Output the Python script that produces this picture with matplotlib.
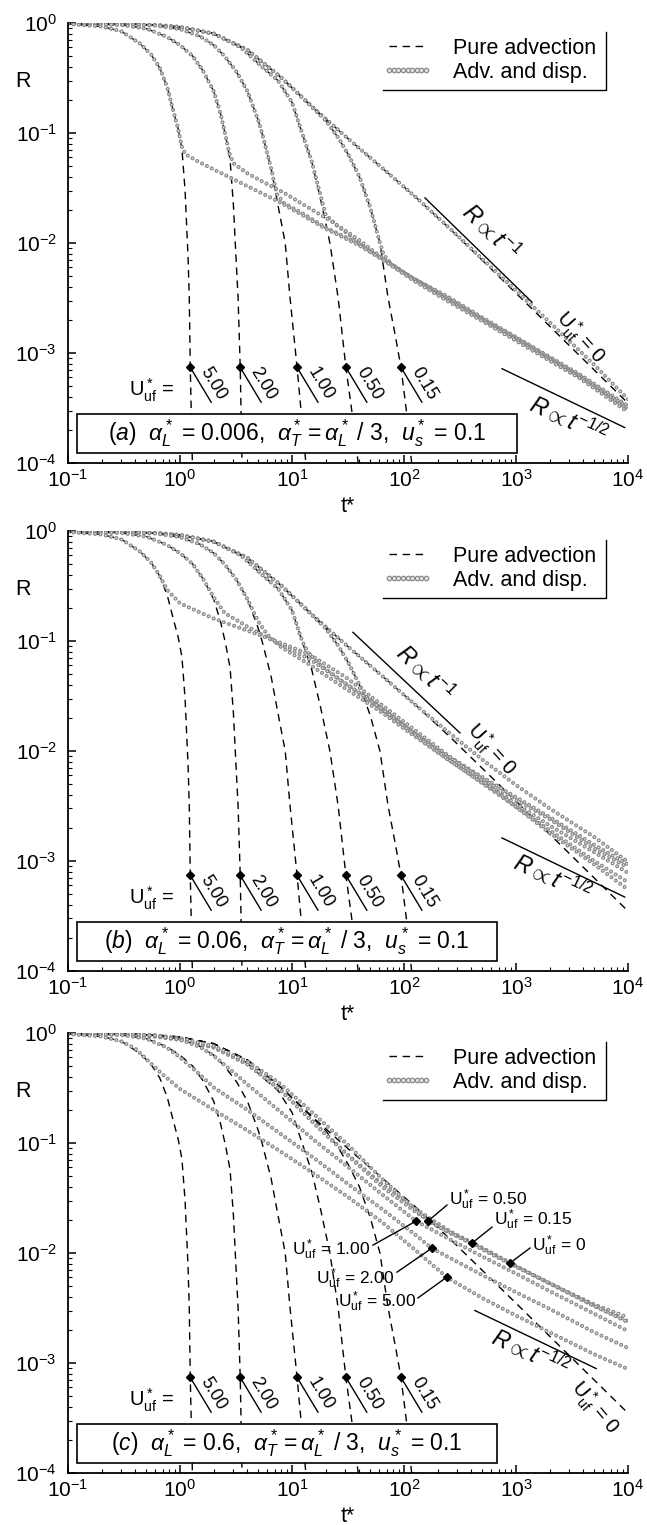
import numpy as np
import matplotlib.pyplot as plt
from matplotlib.lines import Line2D
from matplotlib.patches import Rectangle

plt.rcParams['font.family'] = ['Liberation Sans', 'DejaVu Sans']
plt.rcParams['mathtext.fontset'] = 'custom'
plt.rcParams['mathtext.rm'] = 'Liberation Sans'
plt.rcParams['mathtext.it'] = 'Liberation Sans:italic'
plt.rcParams['mathtext.bf'] = 'Liberation Sans:bold'
plt.rcParams['lines.scale_dashes'] = False
plt.rcParams['axes.unicode_minus'] = False

# ---- pure advection curves (same in every panel) ----
t_adv_0 = [0.1, 0.3, 0.6, 1, 2, 4, 8, 16, 32, 64, 128, 256, 512, 1000, 2000, 5000, 10000]
R_adv_0 = [0.995, 0.985, 0.96, 0.92, 0.8, 0.57, 0.32, 0.165, 0.088, 0.048, 0.026, 0.0135, 0.0068, 0.0035, 0.00175, 0.0007, 0.00035]
t_adv_015 = [0.1, 0.3, 0.6, 1, 2, 4, 8, 14, 20, 26, 32, 40, 50, 61, 72, 84, 94, 105, 117, 125]
R_adv_015 = [0.995, 0.985, 0.96, 0.92, 0.8, 0.57, 0.32, 0.185, 0.13, 0.09, 0.063, 0.04, 0.021, 0.01, 0.0032, 0.0014, 0.00074, 0.0003, 0.0001, 0.00004]
t_adv_05 = [0.1, 0.3, 0.6, 1, 2, 3.5, 5.4, 7.5, 10, 12.3, 15, 18, 21.8, 25.8, 30.3, 35, 39, 42]
R_adv_05 = [0.995, 0.985, 0.96, 0.92, 0.8, 0.6, 0.4, 0.3, 0.19, 0.1, 0.055, 0.025, 0.01, 0.0032, 0.00074, 0.00025, 0.0001, 0.00004]
t_adv_1 = [0.1, 0.3, 0.6, 1, 1.5, 2, 2.5, 3.2, 4, 5, 5.4, 6.5, 7.5, 8.7, 9.6, 11.1, 12.2, 13.3, 14]
R_adv_1 = [0.995, 0.98, 0.95, 0.88, 0.76, 0.63, 0.5, 0.36, 0.24, 0.13, 0.1, 0.048, 0.022, 0.01, 0.0032, 0.00074, 0.00026, 0.0001, 0.00005]
t_adv_2 = [0.1, 0.3, 0.5, 0.76, 1, 1.3, 1.6, 2.0, 2.3, 2.55, 2.8, 3.0, 3.15, 3.3, 3.45, 3.58, 3.7]
R_adv_2 = [0.99, 0.96, 0.89, 0.75, 0.63, 0.5, 0.37, 0.24, 0.15, 0.095, 0.057, 0.022, 0.008, 0.0032, 0.00074, 0.0001, 0.00004]
t_adv_5 = [0.1, 0.2, 0.3, 0.44, 0.55, 0.66, 0.77, 0.87, 0.96, 1.04, 1.11, 1.18, 1.21, 1.235, 1.29, 1.33]
R_adv_5 = [0.98, 0.93, 0.84, 0.65, 0.52, 0.39, 0.26, 0.16, 0.11, 0.072, 0.03, 0.0075, 0.0032, 0.00074, 0.0001, 0.00004]

# ---- (a) alpha_L = 0.006 ----
ta_0 = t_adv_0
Ra_0 = [0.995, 0.985, 0.96, 0.92, 0.8, 0.57, 0.32, 0.165, 0.088, 0.048, 0.026, 0.0136, 0.007, 0.0037, 0.0019, 0.00078, 0.00038]
ta_015 = [0.1, 0.3, 0.6, 1, 2, 4, 8, 14, 20, 26, 32, 40, 50, 61, 66, 80, 120, 240, 500, 940, 2000, 3700, 10000]
Ra_015 = [0.995, 0.985, 0.96, 0.92, 0.8, 0.57, 0.32, 0.185, 0.13, 0.09, 0.063, 0.04, 0.021, 0.01, 0.0078, 0.0062, 0.0048, 0.0033, 0.0021, 0.00145, 0.00092, 0.00064, 0.00033]
ta_05 = [0.1, 0.3, 0.6, 1, 2, 3.5, 5.4, 7.5, 10, 12.3, 15, 18, 20, 25, 35, 65, 120, 240, 500, 940, 2000, 3700, 10000]
Ra_05 = [0.995, 0.985, 0.96, 0.92, 0.8, 0.6, 0.4, 0.3, 0.19, 0.1, 0.055, 0.027, 0.018, 0.0145, 0.0112, 0.0072, 0.0048, 0.0032, 0.00205, 0.00142, 0.0009, 0.00062, 0.00032]
ta_1 = [0.1, 0.3, 0.6, 1, 1.5, 2, 2.5, 3.2, 4, 5, 5.4, 6.5, 7.3, 8.5, 12, 20, 35, 65, 120, 240, 500, 940, 2000, 3700, 10000]
Ra_1 = [0.995, 0.98, 0.95, 0.88, 0.76, 0.63, 0.5, 0.36, 0.24, 0.13, 0.1, 0.048, 0.028, 0.023, 0.019, 0.0138, 0.0105, 0.0071, 0.0047, 0.0031, 0.002, 0.00139, 0.00088, 0.00061, 0.00031]
ta_2 = [0.1, 0.3, 0.5, 0.76, 1, 1.3, 1.6, 2.0, 2.3, 2.55, 2.75, 3.0, 4, 5.5, 8.3, 14, 22, 40, 65, 120, 240, 500, 940, 2000, 3700, 10000]
Ra_2 = [0.99, 0.96, 0.89, 0.75, 0.63, 0.5, 0.37, 0.24, 0.15, 0.095, 0.066, 0.053, 0.043, 0.036, 0.029, 0.021, 0.016, 0.0106, 0.0072, 0.0047, 0.0031, 0.002, 0.00137, 0.00087, 0.0006, 0.0003]
ta_5 = [0.1, 0.2, 0.3, 0.44, 0.55, 0.66, 0.77, 0.87, 0.96, 1.04, 1.12, 1.5, 3, 7.8, 20, 40, 65, 120, 240, 500, 940, 2000, 3700, 10000]
Ra_5 = [0.98, 0.93, 0.84, 0.65, 0.52, 0.39, 0.26, 0.16, 0.11, 0.075, 0.064, 0.054, 0.038, 0.0235, 0.0135, 0.0095, 0.007, 0.0046, 0.003, 0.00195, 0.00134, 0.00085, 0.00059, 0.00029]

# ---- (b) alpha_L = 0.06 ----
tb_0 = [0.1, 0.3, 0.6, 1, 2, 4, 8, 16, 32, 64, 128, 256, 512, 1000, 2000, 5000, 10000]
Rb_0 = [0.995, 0.985, 0.96, 0.92, 0.8, 0.57, 0.32, 0.165, 0.088, 0.048, 0.026, 0.0145, 0.0082, 0.0049, 0.003, 0.00165, 0.00098]
tb_015 = [0.1, 0.3, 0.6, 1, 2, 4, 8, 14, 20, 26, 32, 40, 45, 61, 120, 240, 512, 1000, 2000, 5000, 10000]
Rb_015 = [0.995, 0.985, 0.96, 0.92, 0.8, 0.57, 0.32, 0.185, 0.13, 0.09, 0.063, 0.04, 0.032, 0.024, 0.0148, 0.0092, 0.0057, 0.0038, 0.0025, 0.0014, 0.00093]
tb_05 = [0.1, 0.3, 0.6, 1, 2, 3.5, 5.4, 7.5, 10, 12.3, 14, 18, 30, 61, 120, 240, 512, 1000, 2000, 5000, 10000]
Rb_05 = [0.995, 0.985, 0.96, 0.92, 0.8, 0.6, 0.4, 0.3, 0.19, 0.1, 0.078, 0.06, 0.041, 0.025, 0.0148, 0.009, 0.0055, 0.0036, 0.0024, 0.0013, 0.00087]
tb_1 = [0.1, 0.3, 0.6, 1, 1.5, 2, 2.5, 3.2, 4, 5, 6, 8, 14, 30, 61, 120, 240, 512, 1000, 2000, 5000, 10000]
Rb_1 = [0.995, 0.98, 0.95, 0.88, 0.76, 0.63, 0.5, 0.36, 0.24, 0.15, 0.115, 0.088, 0.062, 0.037, 0.023, 0.014, 0.0085, 0.0051, 0.0033, 0.0021, 0.0012, 0.00078]
tb_2 = [0.1, 0.3, 0.5, 0.76, 1, 1.3, 1.6, 2.0, 2.5, 4, 8, 14.5, 30, 61, 120, 240, 512, 1000, 2000, 5000, 10000]
Rb_2 = [0.99, 0.96, 0.89, 0.75, 0.63, 0.5, 0.37, 0.25, 0.18, 0.135, 0.092, 0.068, 0.041, 0.025, 0.0145, 0.0086, 0.005, 0.0031, 0.0019, 0.001, 0.00064]
tb_5 = [0.1, 0.2, 0.3, 0.44, 0.55, 0.66, 0.77, 1, 2, 4.2, 8, 14.5, 30, 61, 120, 240, 512, 1000, 2000, 5000, 10000]
Rb_5 = [0.98, 0.93, 0.84, 0.65, 0.52, 0.39, 0.29, 0.22, 0.16, 0.122, 0.096, 0.075, 0.047, 0.027, 0.016, 0.0093, 0.0053, 0.0031, 0.0018, 0.00093, 0.00055]

# ---- (c) alpha_L = 0.6 ----
tc_0 = [0.1, 0.3, 0.6, 1, 2, 4, 8, 16, 32, 64, 128, 256, 512, 890, 2000, 5000, 10000]
Rc_0 = [0.99, 0.97, 0.93, 0.87, 0.74, 0.52, 0.3, 0.15, 0.077, 0.042, 0.025, 0.0158, 0.011, 0.0081, 0.0053, 0.0034, 0.0026]
tc_015 = [0.1, 0.3, 0.6, 1, 2, 4, 8, 16, 32, 64, 128, 256, 410, 1000, 2000, 5000, 10000]
Rc_015 = [0.99, 0.97, 0.93, 0.87, 0.74, 0.52, 0.3, 0.148, 0.076, 0.04, 0.0235, 0.0152, 0.0123, 0.0076, 0.0053, 0.0033, 0.0024]
tc_05 = [0.1, 0.3, 0.6, 1, 2, 4, 6, 8, 16, 32, 64, 163, 300, 600, 1000, 2000, 5000, 10000]
Rc_05 = [0.995, 0.985, 0.955, 0.9, 0.76, 0.55, 0.42, 0.34, 0.18, 0.095, 0.047, 0.0195, 0.0142, 0.0098, 0.0075, 0.0053, 0.0033, 0.00235]
tc_1 = [0.1, 0.3, 0.6, 1, 1.5, 2, 3, 4, 8, 16, 32, 64, 128, 250, 500, 1000, 2000, 5000, 10000]
Rc_1 = [0.995, 0.98, 0.95, 0.87, 0.75, 0.62, 0.44, 0.34, 0.19, 0.105, 0.06, 0.034, 0.0195, 0.0135, 0.0093, 0.0065, 0.0045, 0.0028, 0.00195]
tc_2 = [0.1, 0.3, 0.5, 0.76, 1, 1.5, 2, 4, 8, 16, 32, 64, 128, 178, 500, 1000, 2000, 5000, 10000]
Rc_2 = [0.99, 0.96, 0.89, 0.74, 0.6, 0.42, 0.32, 0.2, 0.12, 0.072, 0.042, 0.025, 0.0145, 0.011, 0.0063, 0.0044, 0.0031, 0.0019, 0.00137]
tc_5 = [0.1, 0.2, 0.3, 0.4, 0.5, 0.7, 1, 2, 4, 8, 16, 32, 64, 128, 242, 500, 1000, 2000, 5000, 10000]
Rc_5 = [0.98, 0.93, 0.84, 0.72, 0.58, 0.42, 0.31, 0.2, 0.13, 0.083, 0.052, 0.032, 0.019, 0.0105, 0.006, 0.0039, 0.0027, 0.0019, 0.0012, 0.00088]

# label markers on the pure advection curves
U_text = ['5.00', '2.00', '1.00', '0.50', '0.15']
t_mark = [1.235, 3.45, 11.1, 30.3, 94.0]
R_mark = 7.4e-4

adv = [(t_adv_0, R_adv_0), (t_adv_015, R_adv_015), (t_adv_05, R_adv_05),
       (t_adv_1, R_adv_1), (t_adv_2, R_adv_2), (t_adv_5, R_adv_5)]
gray_a = [(ta_0, Ra_0), (ta_015, Ra_015), (ta_05, Ra_05), (ta_1, Ra_1), (ta_2, Ra_2), (ta_5, Ra_5)]
gray_b = [(tb_0, Rb_0), (tb_015, Rb_015), (tb_05, Rb_05), (tb_1, Rb_1), (tb_2, Rb_2), (tb_5, Rb_5)]
gray_c = [(tc_0, Rc_0), (tc_015, Rc_015), (tc_05, Rc_05), (tc_1, Rc_1), (tc_2, Rc_2), (tc_5, Rc_5)]

DASH = (0, (5.4, 4.0))
DOT = (0, (0.01, 3.9))
GRAY = '#8a8a8a'
INNER = '#e4e4e4'


def draw_base(ax, grays):
    for t, R in adv:
        ax.plot(t, R, color='k', lw=1.0, linestyle=DASH)
    for t, R in grays:
        ax.plot(t, R, color=GRAY, lw=3.0, linestyle=DOT, dash_capstyle='round')
        ax.plot(t, R, color=INNER, lw=1.2, linestyle=DOT, dash_capstyle='round')

    ax.set_xscale('log')
    ax.set_yscale('log')
    ax.set_xlim(0.1, 1e4)
    ax.set_ylim(1e-4, 1)
    ax.spines['top'].set_visible(False)
    ax.spines['right'].set_visible(False)
    ax.spines['left'].set_linewidth(1.3)
    ax.spines['bottom'].set_linewidth(1.3)
    ax.tick_params(which='major', direction='in', length=6, width=1.1, labelsize=15)
    ax.tick_params(axis='y', which='major', pad=8)
    ax.tick_params(axis='x', which='major', pad=4)
    ax.tick_params(which='minor', direction='in', length=3, width=0.8)
    ax.set_xlabel('t*', fontsize=15.5)
    ax.xaxis.set_label_coords(0.5, -0.075)
    ax.text(-0.08, 0.866, 'R', transform=ax.transAxes, fontsize=15.5, ha='center', va='center')

    # markers and labels on the pure advection curves
    ax.plot(t_mark, [R_mark] * 5, 'D', color='k', ms=4)
    for t, s in zip(t_mark, U_text):
        ax.annotate('', xy=(t, R_mark), xytext=(21, -35), textcoords='offset pixels',
                    arrowprops=dict(arrowstyle='-', lw=1.0, color='k', shrinkA=0, shrinkB=0))
        ax.annotate(s, xy=(t, R_mark), xytext=(23, -16), textcoords='offset pixels',
                    rotation=-59, ha='center', va='center', fontsize=13)
    ax.text(0.56, 4.6e-4, r'U$^*_{\rm uf}$ =', fontsize=14.5, ha='center', va='center')

    # legend
    h_dash = Line2D([], [], color='k', lw=1.0, linestyle=DASH)
    h_dot = Line2D([], [], linestyle='none', marker='o', ms=3.2, mec=GRAY, mfc=INNER, mew=0.9)
    ax.legend([h_dash, h_dot], ['Pure advection', 'Adv. and disp.'],
              loc='upper left', bbox_to_anchor=(0.5625, 0.966), frameon=False,
              fontsize=15.5, handlelength=2.28, handletextpad=0.98, numpoints=9,
              borderpad=0, borderaxespad=0, labelspacing=0.12)
    ax.plot([0.5625, 0.9607, 0.9607], [0.8477, 0.8477, 0.9795], color='k', lw=1.0,
            transform=ax.transAxes, clip_on=False)


def draw_box(ax, text, width):
    ax.add_patch(Rectangle((0.016, 0.0227), width, 0.0886, transform=ax.transAxes,
                           facecolor='white', edgecolor='k', lw=1.2, zorder=5))
    ax.text(0.016 + width / 2, 0.0227 + 0.0443, text, transform=ax.transAxes,
            fontsize=16.5, ha='center', va='center', zorder=6)


def slope_mark(ax, tt, RR, label, tl, Rl, rot):
    ax.plot(tt, RR, color='k', lw=1.0)
    ax.text(tl, Rl, label, fontsize=16.5, rotation=rot, ha='center', va='center')


fig = plt.figure(figsize=(6.47, 15.25), dpi=100)
ax_a = fig.add_axes([0.1051, 0.6964, 0.8655, 0.2885])
ax_b = fig.add_axes([0.1051, 0.3633, 0.8655, 0.2885])
ax_c = fig.add_axes([0.1051, 0.0341, 0.8655, 0.2885])

Uzero = r'U$^*_{\rm uf}$ = 0'
slope1 = r'$R \propto t^{-1}$'
slope2 = r'$R \propto t^{-1/2}$'

# (a)
draw_base(ax_a, gray_a)
slope_mark(ax_a, [154, 1390], [0.0257, 0.0029], slope1, 590, 0.0126, -44)
slope_mark(ax_a, [750, 9350], [7.2e-4, 2.1e-4], slope2, 2900, 2.45e-4, -25)
ax_a.text(3740, 1.37e-3, Uzero, fontsize=14.5, rotation=-48, ha='center', va='center')
draw_box(ax_a, r'$(a)$  $\alpha^*_L$ = 0.006,  $\alpha^*_T = \alpha^*_L$ / 3,  $u^*_s$ = 0.1', 0.786)

# (b)
draw_base(ax_b, gray_b)
slope_mark(ax_b, [35, 316], [0.12, 0.0146], slope1, 154, 0.051, -44)
slope_mark(ax_b, [750, 9350], [1.62e-3, 4.7e-4], slope2, 2100, 7.0e-4, -25)
ax_b.text(600, 0.0102, Uzero, fontsize=14.5, rotation=-48, ha='center', va='center')
draw_box(ax_b, r'$(b)$  $\alpha^*_L$ = 0.06,  $\alpha^*_T = \alpha^*_L$ / 3,  $u^*_s$ = 0.1', 0.75)

# (c)
draw_base(ax_c, gray_c)
slope_mark(ax_c, [430, 5200], [3.0e-3, 8.9e-4], slope2, 1330, 1.23e-3, -25)
ax_c.text(5070, 3.9e-4, Uzero, fontsize=14.5, rotation=-50, ha='center', va='center')
draw_box(ax_c, r'$(c)$  $\alpha^*_L$ = 0.6,  $\alpha^*_T = \alpha^*_L$ / 3,  $u^*_s$ = 0.1', 0.75)

# labelled dispersion curves in (c): diamond point, pointer end, text point, alignment
c_labels = [
    ('0.50', (164, 0.0195), (242, 0.0273), (251, 0.0305), 'left'),
    ('0.15', (405, 0.0123), (611, 0.0172), (636, 0.0202), 'left'),
    ('0', (884, 0.0081), (1334, 0.0111), (1390, 0.0116), 'left'),
    ('1.00', (128, 0.0195), (52.8, 0.0118), (49.7, 0.0106), 'right'),
    ('2.00', (178, 0.0111), (86.6, 0.0067), (81.5, 0.0058), 'right'),
    ('5.00', (242, 0.00605), (133, 0.0039), (128, 0.0036), 'right'),
]
for s, p, q, r, ha in c_labels:
    ax_c.plot([p[0], q[0]], [p[1], q[1]], color='k', lw=1.0)
    ax_c.plot(p[0], p[1], 'D', color='k', ms=4)
    ax_c.text(r[0], r[1], r'U$^*_{\rm uf}$ = ' + s, fontsize=12.5, ha=ha, va='center')

fig.savefig('out.png', dpi=100)
